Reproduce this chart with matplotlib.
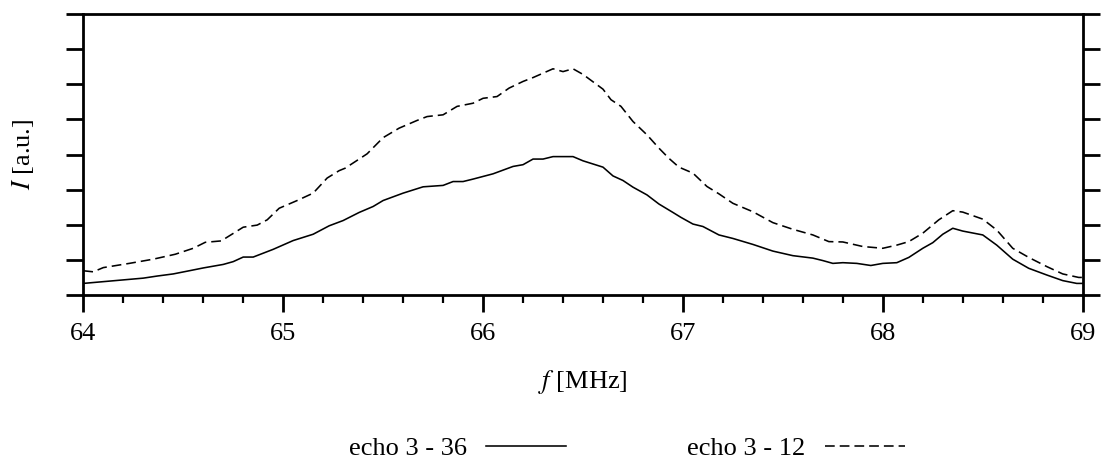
import matplotlib
matplotlib.use("Agg")
import matplotlib.pyplot as plt
from matplotlib.ticker import MultipleLocator, NullFormatter

plt.rcParams['font.family'] = ['Liberation Serif', 'DejaVu Serif']
plt.rcParams['mathtext.fontset'] = 'stix'
plt.rcParams['lines.scale_dashes'] = False

# echo 3 - 36 (solid)
f_36 = [64.0, 64.1, 64.2, 64.3, 64.37, 64.45, 64.53, 64.6, 64.7, 64.75, 64.8, 64.85,
        64.95, 65.05, 65.15, 65.23, 65.3, 65.38, 65.45, 65.5, 65.6, 65.7, 65.8, 65.85,
        65.9, 65.95, 66.05, 66.15, 66.2, 66.25, 66.3, 66.35, 66.45, 66.5, 66.6, 66.65,
        66.7, 66.75, 66.82, 66.88, 66.95, 66.99, 67.05, 67.1, 67.18, 67.25, 67.35, 67.45,
        67.55, 67.65, 67.7, 67.75, 67.8, 67.87, 67.94, 68.0, 68.07, 68.13, 68.2, 68.25,
        68.3, 68.35, 68.4, 68.5, 68.57, 68.65, 68.73, 68.82, 68.9, 68.97, 69.0]
I_36 = [0.33, 0.38, 0.43, 0.48, 0.54, 0.60, 0.69, 0.77, 0.87, 0.95, 1.08, 1.08,
        1.30, 1.55, 1.73, 1.97, 2.12, 2.35, 2.52, 2.69, 2.90, 3.08, 3.12, 3.23,
        3.23, 3.30, 3.45, 3.66, 3.71, 3.87, 3.87, 3.94, 3.94, 3.82, 3.64, 3.39,
        3.26, 3.07, 2.85, 2.59, 2.35, 2.21, 2.02, 1.95, 1.71, 1.61, 1.44, 1.25,
        1.12, 1.05, 0.98, 0.90, 0.92, 0.90, 0.84, 0.90, 0.92, 1.07, 1.33, 1.49,
        1.73, 1.90, 1.82, 1.71, 1.42, 1.02, 0.76, 0.57, 0.41, 0.33, 0.33]

# echo 3 - 12 (dashed)
f_12 = [64.0, 64.05, 64.1, 64.23, 64.35, 64.46, 64.55, 64.61, 64.69, 64.8, 64.87, 64.92,
        64.98, 65.07, 65.15, 65.22, 65.28, 65.31, 65.38, 65.42, 65.5, 65.58, 65.67, 65.72,
        65.8, 65.87, 65.95, 66.0, 66.07, 66.13, 66.2, 66.25, 66.35, 66.4, 66.45, 66.5,
        66.6, 66.64, 66.69, 66.75, 66.82, 66.88, 66.93, 66.98, 67.05, 67.12, 67.18, 67.25,
        67.35, 67.45, 67.55, 67.65, 67.73, 67.8, 67.9, 68.0, 68.07, 68.13, 68.2, 68.28,
        68.35, 68.4, 68.5, 68.57, 68.65, 68.73, 68.82, 68.9, 68.98, 69.0]
I_12 = [0.69, 0.66, 0.78, 0.90, 1.02, 1.16, 1.33, 1.50, 1.54, 1.93, 1.99, 2.14,
        2.47, 2.69, 2.90, 3.33, 3.54, 3.61, 3.87, 4.02, 4.48, 4.75, 4.97, 5.08,
        5.13, 5.37, 5.46, 5.60, 5.65, 5.89, 6.08, 6.19, 6.44, 6.36, 6.44, 6.28,
        5.86, 5.56, 5.37, 4.94, 4.56, 4.18, 3.89, 3.64, 3.47, 3.09, 2.88, 2.61,
        2.37, 2.06, 1.87, 1.71, 1.52, 1.51, 1.38, 1.33, 1.42, 1.52, 1.76, 2.14,
        2.40, 2.36, 2.16, 1.85, 1.33, 1.07, 0.81, 0.60, 0.50, 0.50]

labels = ["echo 3 - 36", "echo 3 - 12"]
x_ticks = [64, 65, 66, 67, 68, 69]

FS = 19

fig = plt.figure(figsize=(11.02, 4.58), dpi=100)
ax = fig.add_axes([83.3 / 1102, (458 - 295) / 458, (1082.7 - 83.3) / 1102, (295 - 14) / 458])

l1, = ax.plot(f_36, I_36, color='black', lw=1.15, label=labels[0])
l2, = ax.plot(f_12, I_12, color='black', lw=1.15, label=labels[1])
l2.set_dashes([7.0, 3.6])

ax.set_xlim(64, 69)
ax.set_ylim(0, 8)
ax.set_xticks(x_ticks)
ax.set_xticklabels([str(t) for t in x_ticks])
ax.xaxis.set_minor_locator(MultipleLocator(0.2))
ax.yaxis.set_major_locator(MultipleLocator(1))
ax.yaxis.set_major_formatter(NullFormatter())

for s in ax.spines.values():
    s.set_linewidth(2.0)

ax.tick_params(axis='x', which='major', direction='out', length=12, width=2.0,
               labelsize=FS, pad=8, top=False)
ax.tick_params(axis='x', which='minor', direction='out', length=6, width=1.6, top=False)
ax.tick_params(axis='y', which='major', direction='out', length=12, width=2.0,
               left=True, right=True, labelleft=False, labelright=False)

ax.set_xlabel("$f$ [MHz]", fontsize=FS)
ax.set_ylabel("$I$ [a.u.]", fontsize=FS)
ax.xaxis.set_label_coords(0.5, (295 - 368) / 281)
ax.yaxis.set_label_coords((10 - 83.3) / 999.4, 0.5)
ax.yaxis.label.set_va('top')

fig.legend(handles=[l1, l2], labels=labels, loc='center',
           bbox_to_anchor=(627 / 1102, 1 - 448 / 458), ncol=2, frameon=False,
           markerfirst=False, fontsize=FS, handlelength=3.03, handletextpad=0.72,
           columnspacing=4.58, borderpad=0, borderaxespad=0)

fig.savefig("out.png", dpi=100)
